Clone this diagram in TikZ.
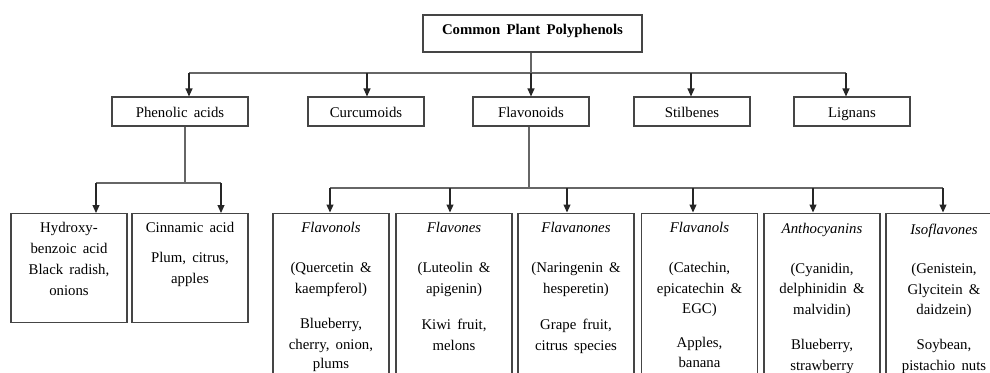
\documentclass[tikz,border=0pt]{standalone}
\usepackage{fontspec}
\setmainfont{Liberation Serif}
\usetikzlibrary{arrows.meta}
\definecolor{lc}{HTML}{454545}
\definecolor{bc}{HTML}{666666}
\newcommand{\wsk}{\spaceskip=0.42em plus 0.1em\relax}
\begin{document}
\begin{tikzpicture}[x=1pt,y=-1pt,
  every node/.style={font=\fontsize{14.8}{20.5}\selectfont,execute at begin node=\wsk},
  box/.style={draw=lc,line width=1.1pt,inner sep=0pt,minimum height=29pt,minimum width=116pt,text height=12pt,text depth=1pt},
  tallbox/.style={draw=lc,line width=1.1pt,inner sep=0pt,minimum height=180pt,minimum width=116pt,anchor=north},
  lowbox/.style={draw=lc,line width=1.1pt,inner sep=0pt,minimum height=109pt,minimum width=116pt,anchor=north},
  txt/.style={align=center,inner sep=0pt,anchor=north,execute at begin node={\wsk\strut}},
  conn/.style={draw=bc,line width=1.2pt},
  arr/.style={draw=black!85,line width=1.1pt,-{Triangle[width=7pt,length=8pt]}}]
\useasboundingbox (0,0) rectangle (990,372);
\clip (0,0) rectangle (990,372);

% top
\node[box,minimum width=219pt,minimum height=37pt] (top) at (532.5,33.5) {};
\node[anchor=base,inner sep=0pt] (toptxt) at (532.5,34.5) {\bfseries Common Plant Polyphenols};

% level 2
\node[box,minimum width=136pt] (pa) at (180,111.5) {Phenolic acids};
\node[box] (cu) at (366,111.5) {Curcumoids};
\node[box] (fl) at (531,111.5) {Flavonoids};
\node[box] (st) at (692,111.5) {Stilbenes};
\node[box] (li) at (852,111.5) {Lignans};

% bus 1
\coordinate (b0) at (531,73);
\coordinate (b1) at (189,73);
\coordinate (b2) at (367,73);
\coordinate (b3) at (531,73);
\coordinate (b4) at (691,73);
\coordinate (b5) at (846,73);
\draw[conn] (top.south -| b0) -- (b0);
\draw[conn] (b1) -- (b5);
\draw[arr] (b1) -- (b1 |- pa.north);
\draw[arr] (b2) -- (b2 |- cu.north);
\draw[arr] (b3) -- (b3 |- fl.north);
\draw[arr] (b4) -- (b4 |- st.north);
\draw[arr] (b5) -- (b5 |- li.north);

% phenolic acids children
\node[lowbox] (hb) at (69,213) {};
\node[lowbox] (cb) at (190,213) {};
\node[txt] (hbt) at (69,222) {Hydroxy-\\[0.5pt]benzoic acid\\[0.5pt]Black radish,\\[0.5pt]onions};
\node[txt] (cbt) at (190,222) {Cinnamic acid\\[10pt]Plum, citrus,\\apples};
\coordinate (p0) at (185,183);
\coordinate (p1) at (96,183);
\coordinate (p2) at (221,183);
\draw[conn] (p0 |- pa.south) -- (p0);
\draw[conn] (p1) -- (p2);
\draw[arr] (p1) -- (p1 |- hb.north);
\draw[arr] (p2) -- (p2 |- cb.north);

% flavonoid children
\node[tallbox] (f1) at (331,212.5) {};
\node[tallbox] (f2) at (454,212.5) {};
\node[tallbox] (f3) at (576,212.5) {};
\node[tallbox] (f4) at (699.5,212.5) {};
\node[tallbox] (f5) at (822,212.5) {};
\node[tallbox] (f6) at (944,212.5) {};
\node[txt] (f1t) at (331,222) {\textit{Flavonols}\\[20pt](Quercetin \&\\kaempferol)\\[15pt]Blueberry,\\cherry, onion,\\[-1pt]plums};
\node[txt] (f2t) at (454,222) {\textit{Flavones}\\[20pt](Luteolin \&\\apigenin)\\[16pt]Kiwi fruit,\\melons};
\node[txt] (f3t) at (576,222) {\textit{Flavanones}\\[20pt](Naringenin \&\\hesperetin)\\[16pt]Grape fruit,\\citrus species};
\node[txt] (f4t) at (699.5,222) {\textit{Flavanols}\\[20pt](Catechin,\\epicatechin \&\\EGC)\\[13pt]Apples,\\banana};
\node[txt] (f5t) at (822,223) {\textit{Anthocyanins}\\[19.5pt](Cyanidin,\\delphinidin \&\\malvidin)\\[15pt]Blueberry,\\strawberry};
\node[txt] (f6t) at (944,224) {\textit{Isoflavones}\\[18.5pt](Genistein,\\Glycitein \&\\daidzein)\\[14.5pt]Soybean,\\pistachio nuts};
\coordinate (q0) at (529,188);
\coordinate (q1) at (330,188);
\coordinate (q2) at (450,188);
\coordinate (q3) at (567,188);
\coordinate (q4) at (693,188);
\coordinate (q5) at (813,188);
\coordinate (q6) at (943,188);
\draw[conn] (q0 |- fl.south) -- (q0);
\draw[conn] (q1) -- (q6);
\draw[arr] (q1) -- (q1 |- f1.north);
\draw[arr] (q2) -- (q2 |- f2.north);
\draw[arr] (q3) -- (q3 |- f3.north);
\draw[arr] (q4) -- (q4 |- f4.north);
\draw[arr] (q5) -- (q5 |- f5.north);
\draw[arr] (q6) -- (q6 |- f6.north);
\end{tikzpicture}
\end{document}
